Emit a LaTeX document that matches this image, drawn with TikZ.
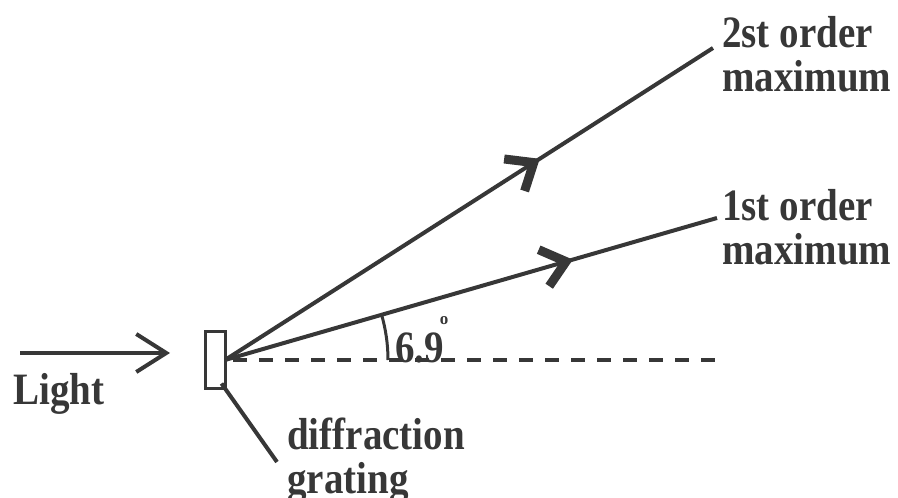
\documentclass[tikz,border=0pt]{standalone}
\usepackage{fontspec}
\usepackage{graphicx}
\setmainfont{Liberation Serif}
\usetikzlibrary{arrows.meta,calc,decorations.markings}
\definecolor{ink}{RGB}{55,55,55}
\newcommand{\tl}[1]{\scalebox{1}[1.15]{#1}}
\tikzset{ray/.style={draw=ink, line width=4pt},
  lbl/.style={font=\bfseries\fontsize{39}{44}\selectfont, text=ink, inner sep=0pt, align=left},
  midtip/.style={postaction={decorate}, decoration={markings,
    mark=at position #1 with {\arrow{Straight Barb[length=23pt, width=38pt, line width=9pt]}}}}}

\begin{document}
\begin{tikzpicture}[x=1pt, y=1pt]
  \useasboundingbox (0,0) rectangle (898,498);
  % grating and incoming light
  \node[draw=ink, line width=3pt, minimum width=20pt, minimum height=57pt, inner sep=0pt] (grt) at (215,137.5) {};
  \coordinate (src) at (20,145);
  \coordinate (lend) at (170,145);
  \draw[ray, -{Straight Barb[length=30pt, width=38pt]}] (src) -- (lend);
  \node[lbl, anchor=base west] (light) at (13,93) {\tl{Light}};
  % diffracted rays
  \coordinate (o) at (225,138);
  \coordinate (max1) at (717,280);
  \coordinate (max2) at (713,450);
  \coordinate (zero) at (717,138);
  \draw[ray, midtip=0.707] (o) -- (max1);
  \draw[ray, midtip=0.645] (o) -- (max2);
  \draw[ink, line width=3.5pt, dash pattern=on 14pt off 12pt] ($(o)+(8,0)$) -- (zero);
  \draw[ink, line width=3pt] (o) ++(0:163) arc (0:16.1:163);
  \node[lbl, anchor=base west] (ang) at (395,135) {\tl{6.9}\kern-4pt\raisebox{38pt}{\fontsize{17}{17}\selectfont o}};
  \node[lbl, anchor=north west] (lbl2) at (722,482) {\tl{2st order}\\\tl{maximum}};
  \node[lbl, anchor=north west] (lbl1) at (722,309) {\tl{1st order}\\\tl{maximum}};
  % pointer to grating
  \coordinate (tail) at (277,36);
  \draw[ray] ($(grt.south east)+(-5,7)$) -- (tail);
  \node[lbl, anchor=north west] (dg) at (287,80) {\tl{diffraction}\\\tl{grating}};
\end{tikzpicture}
\end{document}
